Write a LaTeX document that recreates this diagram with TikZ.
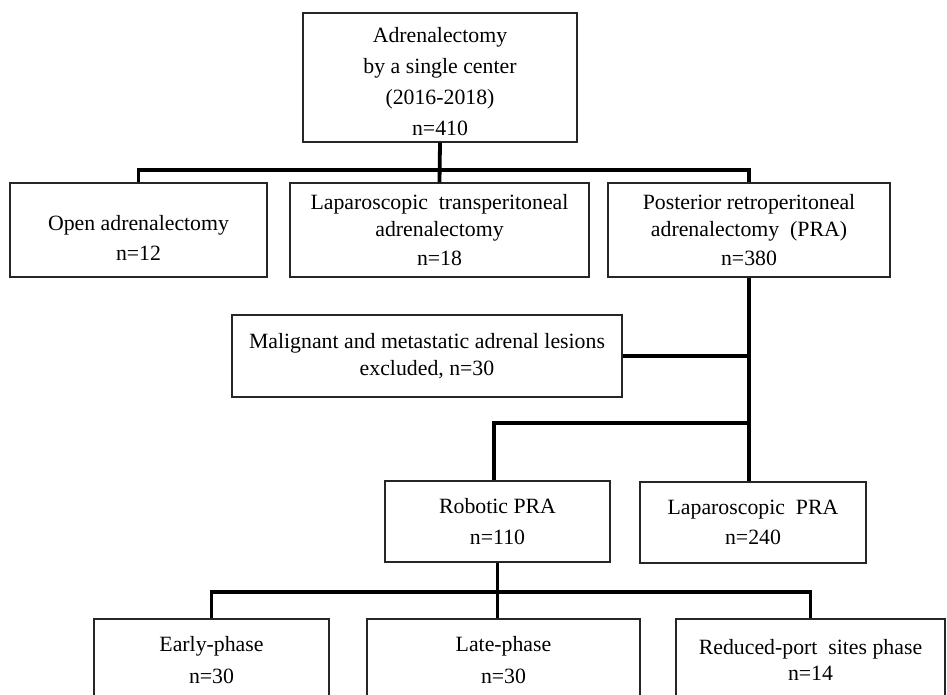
\documentclass[tikz,border=0pt]{standalone}
\usepackage{fontspec}
\setmainfont{Liberation Serif}
\usepackage{tikz}
\usetikzlibrary{positioning, calc}
\tikzstyle{box} = [rectangle, draw=black!85, line width=1pt, align=center, inner sep=0pt, font=\fontsize{15.5}{19.5}\selectfont]
\tikzstyle{link} = [line width=2.7pt, black]
\newcommand{\lowergap}[1]{\rule{0pt}{#1}}

\begin{document}
\begin{tikzpicture}[x=0.025cm, y=-0.025cm]
    \useasboundingbox (0,0) rectangle (947,695);
    \clip (0,0) rectangle (947,695);

    \node (adx) [box, minimum width=274*0.025cm, minimum height=129*0.025cm] at (440,77.5) {\lowergap{16pt}Adrenalectomy\\[2.5pt] by a single center\\[2.5pt] (2016-2018)\\[2.5pt] n=410};

    \node (open) [box, minimum width=257*0.025cm, minimum height=94*0.025cm] at (138.5,230) {\lowergap{22pt}Open adrenalectomy\\[2pt] n=12};
    \node (lapt) [box, minimum width=299*0.025cm, minimum height=94*0.025cm] at (439.5,230) {Laparoscopic\ \ transperitoneal\\ adrenalectomy\\[1pt] n=18};
    \node (pra) [box, minimum width=282*0.025cm, minimum height=94*0.025cm] at (749,230) {Posterior retroperitoneal\\ adrenalectomy\ \ (PRA)\\[1pt] n=380};

    \node (excl) [box, minimum width=390*0.025cm, minimum height=82*0.025cm] at (427,356) {Malignant and metastatic adrenal lesions\\ excluded, n=30};

    \node (rob) [box, minimum width=225*0.025cm, minimum height=81*0.025cm] at (497.5,521.5) {Robotic PRA\\[2pt] n=110};
    \node (lappra) [box, minimum width=226*0.025cm, minimum height=81*0.025cm] at (753,522.5) {Laparoscopic\ \ PRA\\[2pt] n=240};

    \node (early) [box, minimum width=235*0.025cm, minimum height=82*0.025cm] at (211.5,660) {Early-phase\\[3pt] n=30};
    \node (late) [box, minimum width=273*0.025cm, minimum height=82*0.025cm] at (503.5,660) {Late-phase\\[3pt] n=30};
    \node (reduced) [box, minimum width=269*0.025cm, minimum height=82*0.025cm] at (810.5,660) {Reduced-port\ \ sites phase\\[-1.5pt] n=14};

    % split points
    \coordinate (split1) at (440,170);
    \coordinate (split2) at (494,423);
    \coordinate (split3) at (500,592);

    \draw [link] (adx.south) -- (lapt.north);
    \draw [link] (open.north) |- (split1) -| (pra.north);

    \draw [link] (pra.south) -- (pra.south |- lappra.north);
    \draw [link] (excl.east) -- (excl.east -| pra.south);
    \draw [link] (pra.south |- split2) -| (split2 |- rob.north);

    \draw [link] (rob.south) -- (rob.south |- late.north);
    \draw [link] (early.north) |- (split3) -| (reduced.north);
  \end{tikzpicture}
\end{document}
